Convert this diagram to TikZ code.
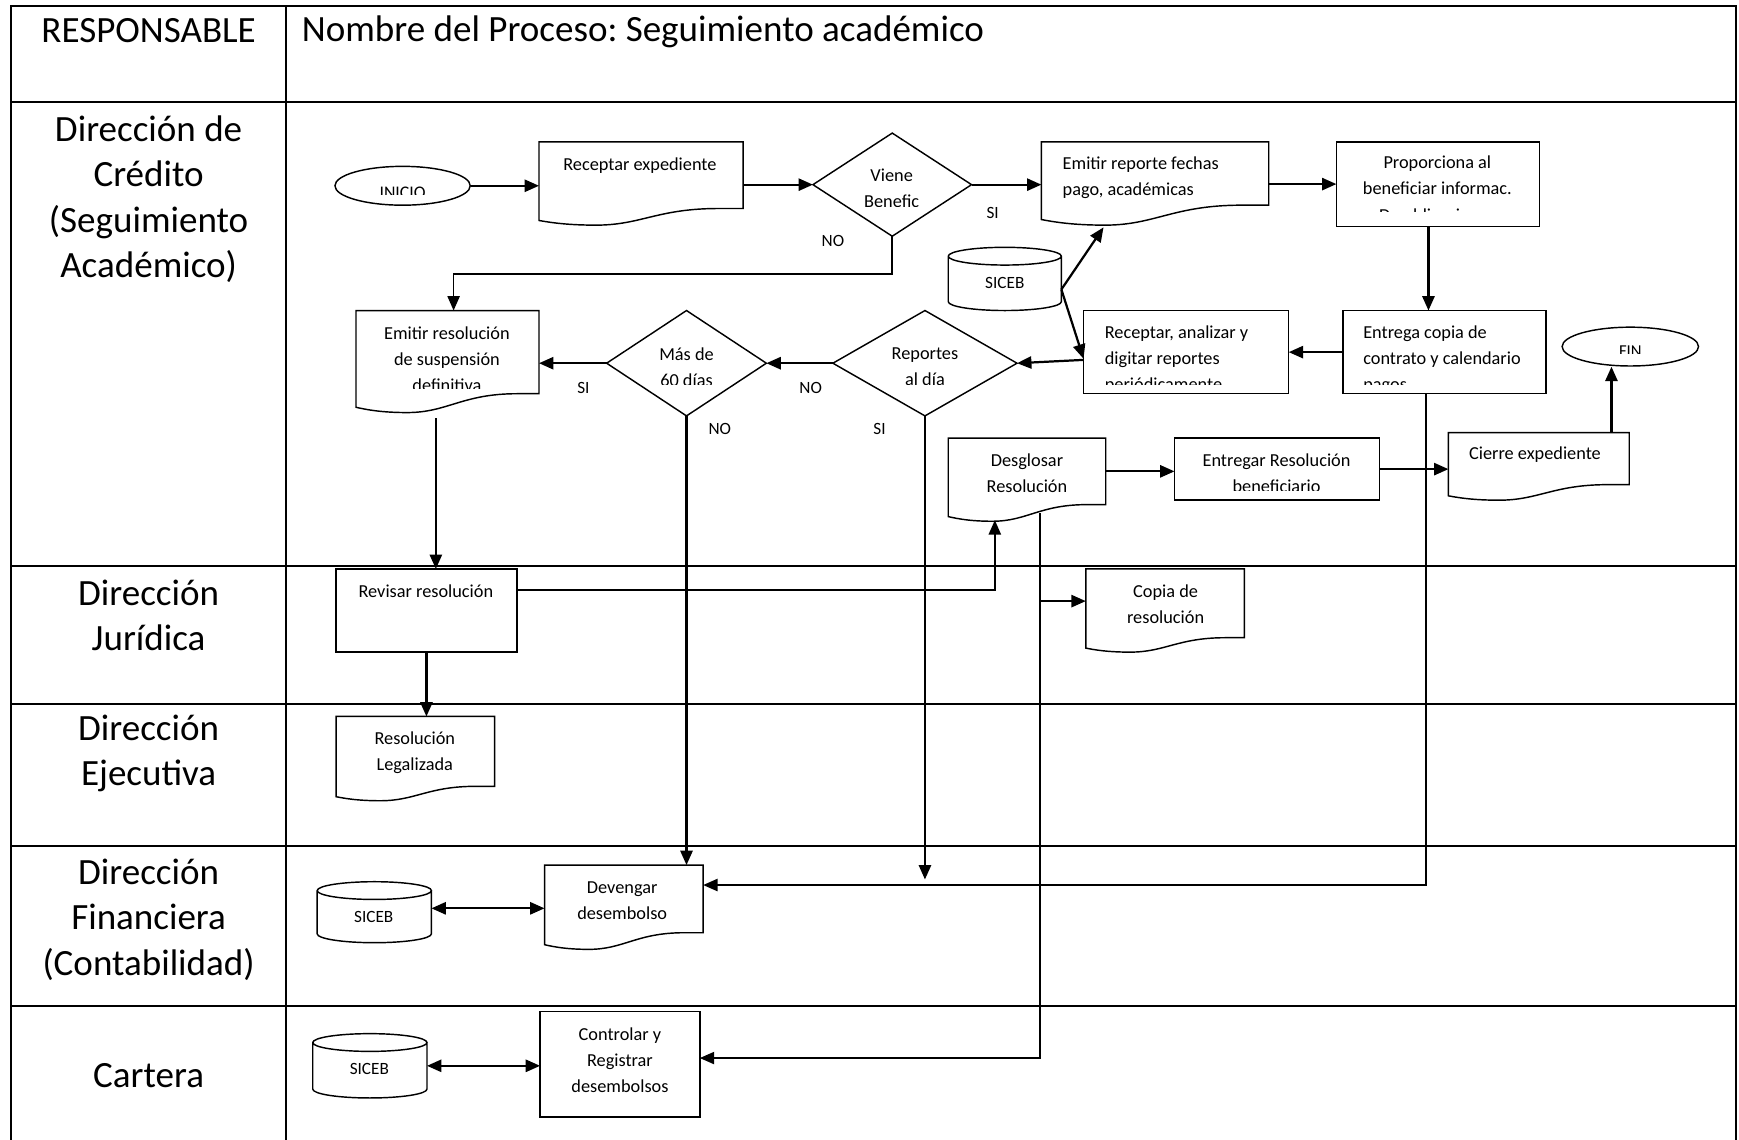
\documentclass[tikz,border=0pt]{standalone}
\usepackage{fontspec}
\setmainfont{Carlito}
\usetikzlibrary{arrows.meta,shapes.geometric,fit,calc}
\frenchspacing
\newcommand{\docshape}[2]{%
  \draw[boxline] let \p1=(#1.south west), \p2=(#1.north east), \n1={\x2-\x1} in
    (\x1,\y1-0.72*#2) -- (\x1,\y2) -- (\x2,\y2) -- (\x2,\y1) -- (\x2-0.12*\n1,\y1)
    .. controls (\x2-0.42*\n1,\y1) and (\x1+0.5*\n1,\y1-#2) .. (\x1+0.28*\n1,\y1-#2)
    .. controls (\x1+0.14*\n1,\y1-#2) and (\x1+0.06*\n1,\y1-0.85*#2) .. (\x1,\y1-0.72*#2) -- cycle;}
\newcommand{\cylshape}[1]{%
  \draw[boxline] let \p1=(#1.south west), \p2=(#1.north east), \n1={(\x2-\x1)/2} in
    (\x1,\y2-8) arc[start angle=180,end angle=540,x radius=\n1,y radius=8pt]
    -- (\x1,\y1+8) arc[start angle=180,end angle=360,x radius=\n1,y radius=8pt]
    -- (\x2,\y2-8);}
\begin{document}
\begin{tikzpicture}[x=1pt,y=-1pt,
  tbl/.style={line width=1.8pt},
  boxline/.style={line width=1.3pt},
  zone/.style={inner sep=0pt,outer sep=0pt},
  arr/.style={line width=2pt,-{Triangle[length=13pt,width=11pt]}},
  dbl/.style={line width=2pt,{Triangle[length=13pt,width=11pt]}-{Triangle[length=13pt,width=11pt]}},
  lane/.style={font=\fontsize{33.4}{41}\selectfont,align=center,inner sep=0pt},
  txt/.style={font=\fontsize{16.5}{23.5}\selectfont,align=center,inner sep=0pt},
  ltxt/.style={font=\fontsize{16.5}{23.5}\selectfont,align=left,inner sep=0pt,anchor=west},
  lbl/.style={font=\fontsize{15.5}{18}\selectfont,inner sep=0pt},
  term/.style={ellipse,draw,line width=1.3pt,inner sep=0pt}]
\useasboundingbox (0,0) rectangle (1568,1027.1);
% ---------- table ----------
\draw[tbl] (10,1035) -- (10,5) -- (1565,5) -- (1565,1035);
\draw[tbl] (258,5) -- (258,1035);
\foreach \yy in {92,510,635,763,907} \draw[tbl] (10,\yy) -- (1565,\yy);
\node[lane] (hresp) at (134,28) {RESPONSABLE};
\node[lane,anchor=west] (htitle) at (272,29) {Nombre del Proceso: Seguimiento académico};
\node[lane] (lane1) at (134,179.5) {Dirección de\\Crédito\\(Seguimiento\\Académico)};
\node[lane] (lane2) at (134,555) {Dirección\\Jurídica};
\node[lane] (lane3) at (134,679.5) {Dirección\\Ejecutiva};
\node[lane] (lane4) at (134,829) {Dirección\\Financiera\\(Contabilidad)};
\node[lane] (lane5) at (134,970) {Cartera};
% ---------- shapes ----------
\node[term,minimum width=122pt,minimum height=35pt] (inicio) at (363,167.5) {};
\begin{scope}\clip (302,150) rectangle (424,175.5);
\node[lbl,font=\fontsize{16}{18}\selectfont] (tinicio) at (363,174) {INICIO};\end{scope}
\node[zone,fit={(486,128) (670,188)}] (rec) {};\docshape{rec}{15}
\node[txt] (trec) at (577,149.5) {Receptar expediente};
\node[zone,fit={(733,120) (876,213)}] (viene) {};
\draw[boxline] (viene.north) -- (viene.east) -- (viene.south) -- (viene.west) -- cycle;
\begin{scope}\clip (733,120) rectangle (876,186);
\node[txt] (tviene) at (804,170) {Viene\\Benefic};\end{scope}
\node[zone,fit={(939,128) (1144,185)}] (emitir) {};\docshape{emitir}{18}
\node[ltxt] (temitir) at (958,160) {Emitir reporte fechas\\pago, académicas};
\node[zone,draw,boxline,fit={(1205,128) (1388,204)}] (prop) {};
\begin{scope}\clip (1205,128) rectangle (1388,191);
\node[txt] (tprop) at (1296,171.5) {Proporciona al\\beneficiar informac.\\De obligaciones};\end{scope}
\node[zone,fit={(855,223) (957,280)}] (siceba) {};\cylshape{siceba}
\node[lbl] (tsiceba) at (906,255) {SICEB};
\node[zone,draw,boxline,fit={(977,280) (1162,355)}] (recan) {};
\begin{scope}\clip (977,280) rectangle (1162,346.5);
\node[ltxt] (trecan) at (996,324) {Receptar, analizar y\\digitar reportes\\periódicamente};\end{scope}
\node[zone,draw,boxline,fit={(1211,280) (1394,355)}] (entrega) {};
\begin{scope}\clip (1211,280) rectangle (1394,346.5);
\node[ltxt] (tentrega) at (1229,324) {Entrega copia de\\contrato y calendario\\pagos};\end{scope}
\node[term,minimum width=123pt,minimum height=35pt] (fin) at (1470,312.5) {};
\begin{scope}\clip (1409,295) rectangle (1532,318.5);
\node[lbl,font=\fontsize{15}{17}\selectfont] (tfin) at (1470,317) {FIN};\end{scope}
\node[zone,fit={(751,280) (917,375)}] (rep) {};
\draw[boxline] (rep.north) -- (rep.east) -- (rep.south) -- (rep.west) -- cycle;
\begin{scope}\clip (751,280) rectangle (917,347);
\node[txt] (trep) at (834,331) {Reportes\\al día};\end{scope}
\node[zone,fit={(547,280) (691,375)}] (mas) {};
\draw[boxline] (mas.north) -- (mas.east) -- (mas.south) -- (mas.west) -- cycle;
\begin{scope}\clip (547,280) rectangle (691,347);
\node[txt] (tmas) at (619,331) {Más de\\60 días};\end{scope}
\node[zone,fit={(321,280) (486,355)}] (emres) {};\docshape{emres}{17}
\begin{scope}\clip (321,280) rectangle (486,350);
\node[txt] (temres) at (403,324) {Emitir resolución\\de suspensión\\definitiva};\end{scope}
\node[zone,fit={(855,395) (997,455)}] (desg) {};\docshape{desg}{15}
\node[txt] (tdesg) at (926,426.5) {Desglosar\\Resolución};
\node[zone,draw,boxline,fit={(1059,395) (1244,451)}] (entreg) {};
\begin{scope}\clip (1059,395) rectangle (1244,442);
\node[txt] (tentreg) at (1151,426.5) {Entregar Resolución\\beneficiario};\end{scope}
\node[zone,fit={(1306,390) (1469,437)}] (cierre) {};\docshape{cierre}{14}
\node[txt] (tcierre) at (1384,409.5) {Cierre expediente};
\node[zone,draw,boxline,fit={(303,513) (466,588)}] (revisar) {};
\node[txt] (trevisar) at (384,533.5) {Revisar resolución};
\node[zone,fit={(979,513) (1122,575)}] (copia) {};\docshape{copia}{13}
\node[txt] (tcopia) at (1051,545) {Copia de\\resolución};
\node[zone,fit={(303,646) (446,709)}] (legal) {};\docshape{legal}{13}
\node[txt] (tlegal) at (374,679) {Resolución\\Legalizada};
\node[zone,fit={(286,795) (389,850)}] (sicebb) {};\cylshape{sicebb}
\node[lbl] (tsicebb) at (337,827) {SICEB};
\node[zone,fit={(491,780) (634,841)}] (deven) {};\docshape{deven}{15}
\node[txt] (tdeven) at (561,812) {Devengar\\desembolso};
\node[zone,fit={(282,932) (385,990)}] (sicebc) {};\cylshape{sicebc}
\node[lbl] (tsicebc) at (333,964) {SICEB};
\node[zone,draw,boxline,fit={(487,912) (631,1007)}] (control) {};
\node[txt] (tcontrol) at (559,956) {Controlar y\\Registrar\\desembolsos};
% ---------- labels ----------
\node[lbl] (si1) at (895,192) {SI};
\node[lbl] (no1) at (751,217) {NO};
\node[lbl] (no2) at (731,350) {NO};
\node[lbl] (si2) at (526,350) {SI};
\node[lbl] (no3) at (649,387) {NO};
\node[lbl] (si3) at (793,387) {SI};
% ---------- helper coordinates ----------
\coordinate (xprop) at (1288,0);
\coordinate (nob) at (409,247);
\coordinate (emresb) at (393,377);
\coordinate (repend) at (834,793);
\coordinate (rd) at (897,532);
\coordinate (desgb) at (897,469);
\coordinate (dv) at (938,463);
\coordinate (db) at (938,542);
\coordinate (dc) at (938,954);
\coordinate (ec) at (1286,798);
\coordinate (sa) at (957,261);
\coordinate (emb) at (995,205);
\coordinate (cf) at (1453,0);
\coordinate (sb) at (0,819);
% ---------- connectors ----------
\draw[arr] (inicio.east) -- (inicio.east -| rec.west);
\draw[arr] (rec.east |- viene.west) -- (viene.west);
\draw[arr] (viene.east) -- (viene.east -| emitir.west);
\draw[arr] (emitir.east |- prop.west) -- (prop.west);
\draw[arr] (prop.south -| xprop) -- (entrega.north -| xprop);
\draw[arr] (entrega.west) -- (entrega.west -| recan.east);
\draw[arr] ([yshift=-7pt]recan.west) -- (rep.east);
\draw[arr] (rep.west) -- (mas.east);
\draw[arr] (mas.west) -- (mas.west -| emres.east);
\draw[arr,line width=1.6pt] (viene.south) -- (viene.south |- nob) -- (nob) -- (nob |- emres.north);
\draw[arr] (emresb) -- (emresb |- revisar.north);
\draw[arr] (mas.south) -- (mas.south |- deven.north);
\draw[arr] (rep.south) -- (repend);
\draw[arr,line width=1.6pt] (revisar.east |- rd) -- (rd) -- (desgb);
\draw[arr] (revisar.south) -- (revisar.south |- legal.north);
\draw[arr,line width=1.6pt] (dv) -- (dc) -- (dc -| control.east);
\draw[arr] (db) -- (db -| copia.west);
\draw[arr,line width=1.6pt] (entrega.south -| ec) -- (ec) -- (ec -| deven.east);
\draw[dbl] (sicebb.east |- sb) -- (deven.west |- sb);
\draw[dbl] (sicebc.east) -- (sicebc.east -| control.west);
\draw[arr] (sa) -- (emb);
\draw[arr] (sa) -- ([yshift=-6pt]recan.west);
\draw[arr] (cierre.north -| cf) -- (fin.south -| cf);
\draw[arr] (desg.east) -- (desg.east -| entreg.west);
\draw[arr] (entreg.east) -- (entreg.east -| cierre.west);
\end{tikzpicture}
\end{document}
